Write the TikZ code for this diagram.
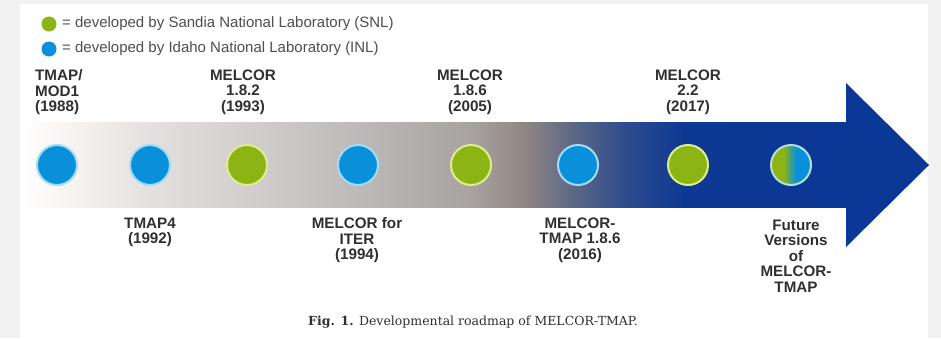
\documentclass[tikz,border=0pt]{standalone}
\usepackage{fontspec}
\newfontfamily\labfont{Liberation Sans}
\newfontfamily\capfontx{DejaVu Serif}
\definecolor{pagegray}{HTML}{F1F1F1}
\definecolor{iblue}{HTML}{0A8FDA}
\definecolor{irim}{HTML}{A3DCF6}
\definecolor{sgreen}{HTML}{8CB414}
\definecolor{srim}{HTML}{DCEE8E}
\definecolor{txt}{HTML}{303030}
\definecolor{g0}{HTML}{FFFFFF}
\definecolor{g1}{HTML}{F6F1EE}
\definecolor{g2}{HTML}{E3E0DF}
\definecolor{g3}{HTML}{CFCCCB}
\definecolor{g4}{HTML}{B8B5B4}
\definecolor{g5}{HTML}{A8A3A1}
\definecolor{g6}{HTML}{8F8682}
\definecolor{g7}{HTML}{5D6885}
\definecolor{g8}{HTML}{2E4C8E}
\definecolor{g9}{HTML}{0D3893}
\definecolor{headblue}{HTML}{0B3796}
\pgfdeclarehorizontalshading{futshade}{100bp}{color(0bp)=(sgreen); color(41bp)=(sgreen); color(56bp)=(iblue); color(100bp)=(iblue)}
\begin{document}
\begin{tikzpicture}[x=1pt,y=-1pt,
  dot/.style={circle, minimum size=40pt, inner sep=0pt, line width=2pt},
  inl/.style={dot, fill=iblue, draw=irim},
  snl/.style={dot, fill=sgreen, draw=srim},
  legdot/.style={circle, minimum size=15pt, inner sep=0pt},
  legtext/.style={anchor=west, inner sep=0pt, text=txt!85, font=\labfont\fontsize{15}{16}\selectfont},
  lab/.style={anchor=north, inner sep=0pt, align=center, text=txt, font=\labfont\bfseries\fontsize{15.2}{15.5}\selectfont}]
\useasboundingbox (0,0) rectangle (941,338);
\fill[pagegray] (0,0) rectangle (941,338);
\fill[white] (20,4) rectangle (928,338);
% arrow body gradient
\fill[left color=g0, right color=g1] (20,122) rectangle (80.5,207);
\fill[left color=g1, right color=g2] (80,122) rectangle (150.5,207);
\fill[left color=g2, right color=g3] (150,122) rectangle (260.5,207);
\fill[left color=g3, right color=g4] (260,122) rectangle (380.5,207);
\fill[left color=g4, right color=g5] (380,122) rectangle (470.5,207);
\fill[left color=g5, right color=g6] (470,122) rectangle (525.5,207);
\fill[left color=g6, right color=g7] (525,122) rectangle (572.5,207);
\fill[left color=g7, right color=g8] (572,122) rectangle (625.5,207);
\fill[left color=g8, right color=g9] (625,122) rectangle (685.5,207);
\fill[left color=g9, right color=headblue] (685,122) rectangle (846.5,207);
\fill[headblue] (846,83) -- (929,165) -- (846,247) -- cycle;
% legend
\node[legdot, fill=sgreen] (lg) at (49,24) {};
\node[legtext] (lgt) at (62,24) {= developed by Sandia National Laboratory (SNL)};
\node[legdot, fill=iblue] (lb) at (49,49) {};
\node[legtext] (lbt) at (62,49) {= developed by Idaho National Laboratory (INL)};
% milestones
\node[inl] (c1) at (57,165) {};
\node[inl] (c2) at (150,165) {};
\node[snl] (c3) at (247,165) {};
\node[inl] (c4) at (358,165) {};
\node[snl] (c5) at (471,165) {};
\node[inl] (c6) at (578,165) {};
\node[snl] (c7) at (688,165) {};
\node[dot, shading=futshade, draw=irim!70!srim] (c8) at (791,165) {};
% top labels
\node[lab, anchor=north west, align=left] (t1) at (35,69.5) {TMAP/\\MOD1\\(1988)};
\node[lab] (t3) at (243,69.5) {MELCOR\\1.8.2\\(1993)};
\node[lab] (t5) at (470,69.5) {MELCOR\\1.8.6\\(2005)};
\node[lab] (t7) at (688,69.5) {MELCOR\\2.2\\(2017)};
% bottom labels
\node[lab] (b2) at (150,217.5) {TMAP4\\(1992)};
\node[lab] (b4) at (357,217.5) {MELCOR for\\ITER\\(1994)};
\node[lab] (b6) at (580,217.5) {MELCOR-\\TMAP 1.8.6\\(2016)};
\node[lab] (b8) at (796,219.5) {Future\\Versions\\of\\MELCOR-\\TMAP};
% caption
\node[inner sep=0pt, text=txt, font=\capfontx\fontsize{12.5}{14}\selectfont] (cap) at (473,322) {\textbf{Fig. 1.} Developmental roadmap of MELCOR-TMAP.};
\end{tikzpicture}
\end{document}
